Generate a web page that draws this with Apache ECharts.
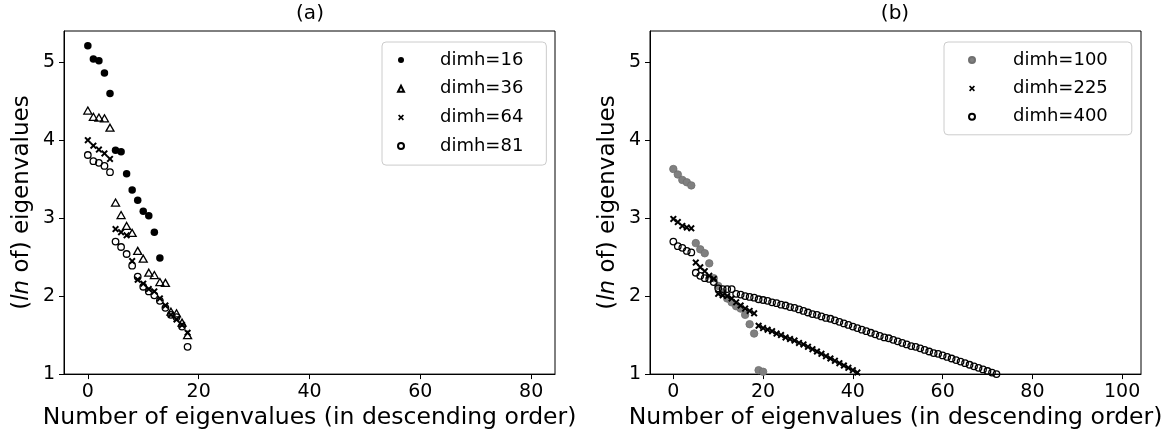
<!DOCTYPE html>
<html>
<head>
<meta charset="utf-8">
<script src="https://cdn.jsdelivr.net/npm/echarts@6/dist/echarts.min.js"></script>
<style>
html,body{margin:0;padding:0;background:#fff;}
#chart{width:1172px;height:435px;}
</style>
</head>
<body>
<div id="chart"></div>
<script>
// ---- data ----
const xTicksA = [0, 20, 40, 60, 80];
const xTicksB = [0, 20, 40, 60, 80, 100];
const yTicks = [1, 2, 3, 4, 5];

const dimh16 = [5.21, 5.04, 5.02, 4.86, 4.60, 3.87, 3.85, 3.57, 3.36, 3.23, 3.09, 3.03, 2.82, 2.49];
const dimh36 = [4.38, 4.30, 4.29, 4.28, 4.16, 3.20, 3.04, 2.90, 2.81, 2.58, 2.48, 2.30, 2.27, 2.18, 2.17, 1.80, 1.78, 1.66, 1.50];
const dimh64 = [4.00, 3.93, 3.88, 3.83, 3.76, 2.86, 2.82, 2.78, 2.45, 2.21, 2.16, 2.09, 2.06, 1.97, 1.88, 1.76, 1.70, 1.63, 1.53];
const dimh81 = [3.81, 3.73, 3.71, 3.67, 3.59, 2.70, 2.63, 2.54, 2.39, 2.25, 2.12, 2.06, 2.01, 1.94, 1.85, 1.76, 1.73, 1.61, 1.35];

const dimh100 = [3.63, 3.56, 3.49, 3.46, 3.42, 2.68, 2.60, 2.55, 2.42, 2.23, 2.13, 2.05, 1.97, 1.92, 1.87, 1.84, 1.76, 1.64, 1.52, 1.05, 1.03];
const dimh225 = [2.99, 2.95, 2.90, 2.88, 2.87, 2.43, 2.37, 2.32, 2.26, 2.22, 2.03, 2.01, 2.00, 1.97, 1.92, 1.88, 1.84, 1.81, 1.78,
  1.62, 1.59, 1.57, 1.55, 1.52, 1.50, 1.47, 1.45, 1.43, 1.40, 1.38, 1.35, 1.32, 1.29, 1.26, 1.23, 1.20, 1.17, 1.14, 1.11, 1.08, 1.05, 1.02];
const dimh400 = [2.70, 2.64, 2.62, 2.58, 2.56, 2.30, 2.26, 2.23, 2.22, 2.18, 2.10, 2.09, 2.09, 2.09, 2.03, 2.02, 2.00,
  1.99, 1.98, 1.96, 1.95, 1.94, 1.92, 1.91, 1.89, 1.88, 1.86, 1.85, 1.83, 1.81, 1.79, 1.77, 1.76, 1.74, 1.72, 1.71,
  1.69, 1.67, 1.65, 1.63, 1.61, 1.59, 1.57, 1.55, 1.53, 1.51, 1.49, 1.47, 1.46, 1.44, 1.42, 1.40, 1.38, 1.36, 1.35,
  1.33, 1.31, 1.29, 1.27, 1.26, 1.24, 1.22, 1.20, 1.18, 1.16, 1.14, 1.12, 1.10, 1.08, 1.06, 1.04, 1.02, 1.00];

// ---- helpers ----
const FONT = 'DejaVu Sans';
const pts = arr => arr.map((v, i) => [i, v]);
const XPATH = 'path://M0,2L2,0L5,3L8,0L10,2L7,5L10,8L8,10L5,7L2,10L0,8L3,5Z';

function xAxisCfg(gridIndex, min, max, ticks) {
  return {
    type: 'value', gridIndex, min, max,
    name: 'Number of eigenvalues (in descending order)',
    nameLocation: 'middle', nameGap: 31,
    nameTextStyle: { fontFamily: FONT, fontSize: 23.5, color: '#000' },
    axisLine: { show: true, onZero: false, lineStyle: { color: '#000', width: 1 } },
    axisTick: { show: true, length: 5, lineStyle: { color: '#000' }, customValues: ticks },
    axisLabel: { fontFamily: FONT, fontSize: 19, color: '#000', margin: 8, customValues: ticks },
    splitLine: { show: false }
  };
}
function yAxisCfg(gridIndex) {
  return {
    type: 'value', gridIndex, min: 1, max: 5.4,
    name: '{n|(}{i|ln}{n| of) eigenvalues}',
    nameLocation: 'middle', nameGap: 30,
    nameTextStyle: {
      fontFamily: FONT, fontSize: 23, color: '#000',
      rich: {
        n: { fontFamily: FONT, fontSize: 23, color: '#000' },
        i: { fontFamily: FONT, fontSize: 23, color: '#000', fontStyle: 'italic' }
      }
    },
    axisLine: { show: true, onZero: false, lineStyle: { color: '#000', width: 1 } },
    axisTick: { show: true, length: 5, lineStyle: { color: '#000' }, customValues: yTicks },
    axisLabel: { fontFamily: FONT, fontSize: 19, color: '#000', margin: 9, customValues: yTicks },
    splitLine: { show: false }
  };
}

const filledBlack = { color: '#000', opacity: 1 };
const openBlack = { color: 'rgba(255,255,255,0)', borderColor: '#000', borderWidth: 1.3, opacity: 1 };

const series = [
  { name: 'dimh=16', type: 'scatter', xAxisIndex: 0, yAxisIndex: 0, symbol: 'circle', symbolSize: 7.5,
    itemStyle: filledBlack, data: pts(dimh16) },
  { name: 'dimh=36', type: 'scatter', xAxisIndex: 0, yAxisIndex: 0, symbol: 'triangle', symbolSize: [8, 7],
    itemStyle: openBlack, data: pts(dimh36) },
  { name: 'dimh=64', type: 'scatter', xAxisIndex: 0, yAxisIndex: 0, symbol: XPATH, symbolSize: 7,
    itemStyle: filledBlack, data: pts(dimh64) },
  { name: 'dimh=81', type: 'scatter', xAxisIndex: 0, yAxisIndex: 0, symbol: 'circle', symbolSize: 6.5,
    itemStyle: openBlack, data: pts(dimh81) },
  { name: 'dimh=100', type: 'scatter', xAxisIndex: 1, yAxisIndex: 1, symbol: 'circle', symbolSize: 7.5,
    itemStyle: { color: '#808080', borderColor: '#707070', borderWidth: 0.8, opacity: 1 }, data: pts(dimh100) },
  { name: 'dimh=225', type: 'scatter', xAxisIndex: 1, yAxisIndex: 1, symbol: XPATH, symbolSize: 7,
    itemStyle: filledBlack, data: pts(dimh225) },
  { name: 'dimh=400', type: 'scatter', xAxisIndex: 1, yAxisIndex: 1, symbol: 'circle', symbolSize: 6.5,
    itemStyle: openBlack, data: pts(dimh400) }
];
series.forEach(s => { s.emphasis = { disabled: true }; s.animation = false; s.clip = true; });

const legendText = { fontFamily: FONT, fontSize: 18, color: '#000', lineHeight: 20 };

const option = {
  backgroundColor: '#fff',
  animation: false,
  grid: [
    { left: 64, top: 31, width: 491, height: 345, show: true, borderColor: '#000', borderWidth: 1, backgroundColor: 'transparent' },
    { left: 650, top: 31, width: 491, height: 345, show: true, borderColor: '#000', borderWidth: 1, backgroundColor: 'transparent' }
  ],
  xAxis: [ xAxisCfg(0, -4.3, 84.3, xTicksA), xAxisCfg(1, -5.2, 104.2, xTicksB) ],
  yAxis: [ yAxisCfg(0), yAxisCfg(1) ],
  title: [
    { text: '(a)', left: 310, top: 4, textAlign: 'center', padding: 0,
      textStyle: { fontFamily: FONT, fontSize: 20, fontWeight: 'normal', color: '#000' } },
    { text: '(b)', left: 895, top: 4, textAlign: 'center', padding: 0,
      textStyle: { fontFamily: FONT, fontSize: 20, fontWeight: 'normal', color: '#000' } }
  ],
  legend: [
    { data: ['dimh=16', 'dimh=36', 'dimh=64', 'dimh=81'], orient: 'vertical', left: 382, top: 42,
      itemWidth: 6, itemHeight: 6, itemGap: 8.7, padding: [8, 23, 9, 15],
      backgroundColor: '#fff', borderColor: '#ccc', borderWidth: 1, borderRadius: 4,
      textStyle: Object.assign({ padding: [0, 0, 0, 31] }, legendText), selectedMode: false },
    { data: ['dimh=100', 'dimh=225', 'dimh=400'], orient: 'vertical', left: 944, top: 42,
      itemWidth: 6, itemHeight: 6, itemGap: 8.4, padding: [8, 24, 8, 24],
      backgroundColor: '#fff', borderColor: '#ccc', borderWidth: 1, borderRadius: 4,
      textStyle: Object.assign({ padding: [0, 0, 0, 33] }, legendText), selectedMode: false }
  ],
  series
};

const chart = echarts.init(document.getElementById('chart'), null, { renderer: 'canvas' });
chart.setOption(option);
</script>
</body>
</html>
